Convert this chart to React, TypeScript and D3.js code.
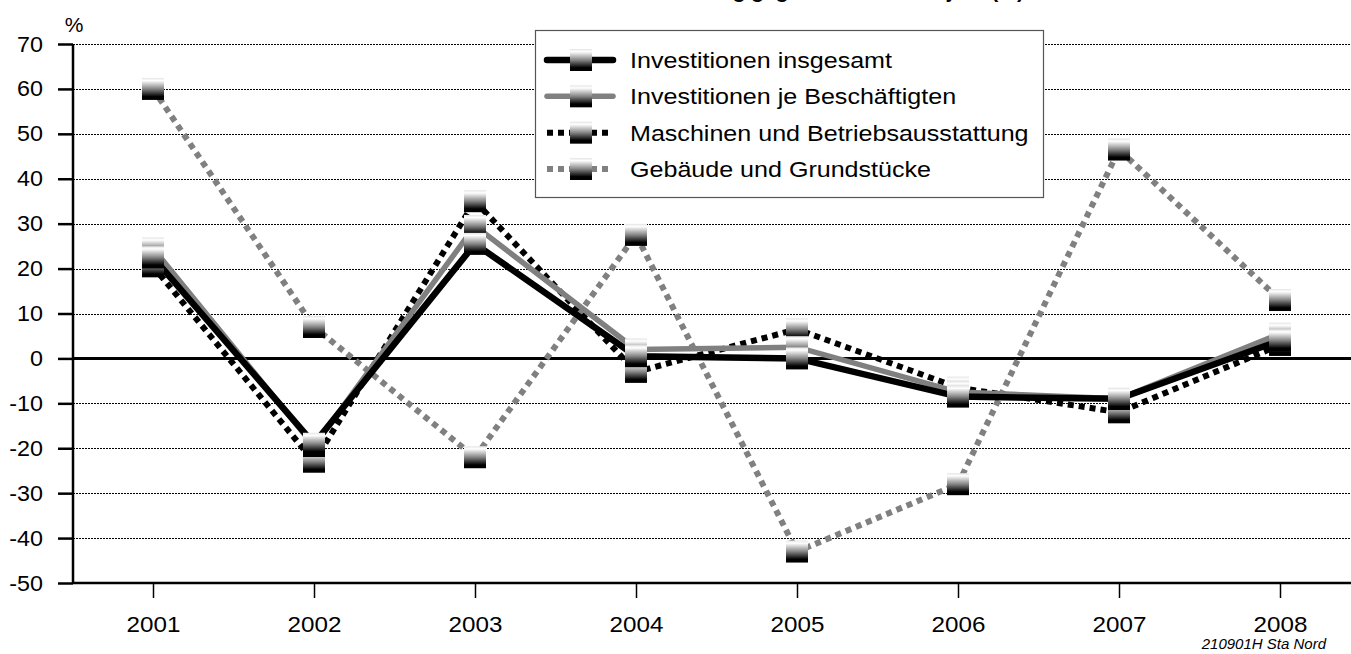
import React, { useEffect, useRef } from "react";
import * as d3 from "d3";

const years = ["2001", "2002", "2003", "2004", "2005", "2006", "2007", "2008"];
const insgesamt = [22.5, -19, 25.5, 0.5, 0, -8.5, -9, 4];
const jeBeschaeftigten = [24.5, -19.5, 29.5, 2, 2.5, -7.5, -9, 5.5];
const maschinen = [20.5, -23, 35, -3, 6.5, -6.5, -12, 3];
const gebaeude = [60, 7, -22, 27.5, -43, -28, 46.5, 13];
const yTicks = [70, 60, 50, 40, 30, 20, 10, 0, -10, -20, -30, -40, -50];

const seriesNames = [
  "Investitionen insgesamt",
  "Investitionen je Beschäftigten",
  "Maschinen und Betriebsausstattung",
  "Gebäude und Grundstücke",
];

const FONT = "'Liberation Sans', Arial, sans-serif";

export default function App() {
  const svgRef = useRef<SVGSVGElement | null>(null);

  useEffect(() => {
    if (!svgRef.current) return;
    const svg = d3.select(svgRef.current);
    svg.selectAll("*").remove();

    const W = 1351;
    const left = 73;
    const bottom = 583;

    const x = d3.scalePoint<string>().domain(years).range([153, 1280]);
    const y = d3.scaleLinear().domain([-50, 70]).range([bottom, 44]);

    // marker gradient: light top, black bottom
    const defs = svg.append("defs");
    const grad = defs
      .append("linearGradient")
      .attr("id", "mk")
      .attr("x1", 0)
      .attr("y1", 0)
      .attr("x2", 0)
      .attr("y2", 1);
    [
      [0, "#e4e4e4"],
      [0.12, "#ffffff"],
      [0.5, "#858585"],
      [0.85, "#000000"],
      [1, "#000000"],
    ].forEach(([o, c]) => grad.append("stop").attr("offset", o as number).attr("stop-color", c as string));

    svg.append("rect").attr("width", W).attr("height", 654).attr("fill", "#fff");

    // title (cut off at the top edge, as in the original)
    svg
      .append("text")
      .attr("x", 1024)
      .attr("y", -2)
      .attr("text-anchor", "end")
      .attr("font-family", FONT)
      .attr("font-weight", "bold")
      .attr("font-size", 21)
      .text("Veränderung gegenüber dem Vorjahr (%)");

    // gridlines
    svg
      .append("g")
      .selectAll("line")
      .data(yTicks.filter((d) => d !== 0 && d !== -50))
      .join("line")
      .attr("x1", left)
      .attr("x2", W)
      .attr("y1", (d) => Math.round(y(d)) + 0.5)
      .attr("y2", (d) => Math.round(y(d)) + 0.5)
      .attr("stroke", "#000")
      .attr("stroke-width", 1)
      .attr("shape-rendering", "crispEdges")
      .attr("stroke-dasharray", "2,1");

    // zero line
    svg
      .append("line")
      .attr("x1", left)
      .attr("x2", W)
      .attr("y1", y(0))
      .attr("y2", y(0))
      .attr("stroke", "#000")
      .attr("stroke-width", 3);

    // y axis
    const yAxis = d3
      .axisLeft(y)
      .tickValues(yTicks)
      .tickSize(15)
      .tickPadding(0)
      .tickFormat((d) => String(d));
    const ya = svg.append("g").attr("transform", `translate(${left},0)`).call(yAxis);
    ya.select(".domain").attr("stroke", "#000").attr("stroke-width", 2.5).attr("d", `M0,${y(70)}V${bottom}`);
    ya.selectAll(".tick line").attr("stroke", "#000").attr("stroke-width", 2.5);
    ya.selectAll(".tick text")
      .attr("x", 0)
      .attr("transform", "translate(-30,0) scale(1.06,1)")
      .attr("font-family", FONT)
      .attr("font-size", 22)
      .attr("fill", "#000");

    // x axis
    const xAxis = d3.axisBottom(x).tickSize(15).tickPadding(18);
    const xa = svg.append("g").attr("transform", `translate(0,${bottom})`).call(xAxis);
    xa.select(".domain").attr("stroke", "#000").attr("stroke-width", 2.5).attr("d", `M${left},0H${W}`);
    xa.selectAll(".tick line").attr("stroke", "#000").attr("stroke-width", 1.5);
    xa.selectAll(".tick text")
      .attr("transform", "scale(1.1,1)")
      .attr("font-family", FONT)
      .attr("font-size", 22)
      .attr("fill", "#000");

    // % label
    svg
      .append("text")
      .attr("x", 74)
      .attr("y", 32)
      .attr("text-anchor", "middle")
      .attr("font-family", FONT)
      .attr("font-size", 21)
      .text("%");

    const styles = [
      { data: insgesamt, color: "#000", dash: null, width: 6.5 },
      { data: jeBeschaeftigten, color: "#808080", dash: null, width: 5.5 },
      { data: maschinen, color: "#000", dash: "6,5", width: 6 },
      { data: gebaeude, color: "#808080", dash: "6,5", width: 6 },
    ];

    const line = d3
      .line<number>()
      .x((_, i) => x(years[i]) as number)
      .y((d) => y(d));

    const drawOrder = [3, 2, 1, 0];
    drawOrder.forEach((k) => {
      const s = styles[k];
      svg
        .append("path")
        .datum(s.data)
        .attr("fill", "none")
        .attr("stroke", s.color)
        .attr("stroke-width", s.width)
        .attr("stroke-dasharray", s.dash)
        .attr("stroke-linejoin", "miter")
        .attr("d", line);
    });

    const ms = 22;
    drawOrder.forEach((k) => {
      const s = styles[k];
      svg
        .append("g")
        .selectAll("rect")
        .data(s.data)
        .join("rect")
        .attr("x", (_, i) => (x(years[i]) as number) - ms / 2)
        .attr("y", (d) => y(d) - ms / 2)
        .attr("width", ms)
        .attr("height", ms)
        .attr("fill", "url(#mk)");
    });

    // legend
    const lg = svg.append("g");
    lg.append("rect")
      .attr("x", 535.5)
      .attr("y", 30.5)
      .attr("width", 508)
      .attr("height", 167)
      .attr("fill", "#fff")
      .attr("stroke", "#555")
      .attr("stroke-width", 1.2);
    const rowY = d3.scaleLinear().domain([0, 3]).range([60, 169]);
    seriesNames.forEach((name, i) => {
      const s = styles[i];
      const cy = rowY(i);
      lg.append("line")
        .attr("x1", 547)
        .attr("x2", 613)
        .attr("y1", cy)
        .attr("y2", cy)
        .attr("stroke", s.color)
        .attr("stroke-width", s.width)
        .attr("stroke-linecap", s.dash ? "butt" : "round")
        .attr("stroke-dasharray", s.dash);
      lg.append("rect")
        .attr("x", 581 - ms / 2)
        .attr("y", cy - ms / 2)
        .attr("width", ms)
        .attr("height", ms)
        .attr("fill", "url(#mk)");
      lg.append("text")
        .attr("transform", `translate(630,${cy + 8}) scale(1.14,1)`)
        .attr("font-family", FONT)
        .attr("font-size", 22)
        .text(name);
    });

    // source note
    svg
      .append("text")
      .attr("x", 1326)
      .attr("y", 649)
      .attr("text-anchor", "end")
      .attr("font-family", FONT)
      .attr("font-style", "italic")
      .attr("font-size", 15)
      .text("210901H Sta Nord");
  }, []);

  return (
    <svg
      ref={svgRef}
      width={1351}
      height={654}
      style={{ position: "absolute", left: 0, top: 0 }}
    />
  );
}
